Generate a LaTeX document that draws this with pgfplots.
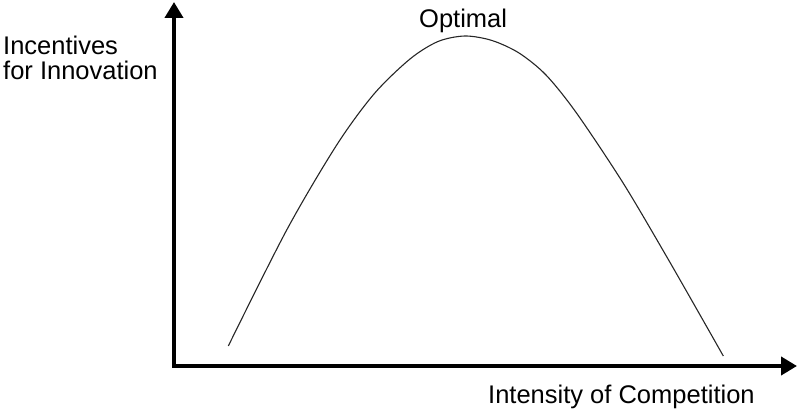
\documentclass[border=0pt]{standalone}
\usepackage{fontspec}
\setmainfont{Liberation Sans}
\usepackage{pgfplots}
\pgfplotsset{compat=1.18}
\usetikzlibrary{arrows.meta}
\begin{document}
\begin{tikzpicture}
\path[use as bounding box] (-174pt,-44pt) rectangle (626pt,366pt);
\begin{axis}[
  at={(0,0)}, anchor=south west,
  scale only axis, width=623pt, height=364pt,
  xmin=0, xmax=623, ymin=0, ymax=364,
  axis lines=left,
  axis line style={line width=4.5pt, line cap=rect, -{Triangle[width=18pt,length=16pt]}},
  xtick=\empty, ytick=\empty,
  clip=false,
]
\addplot[smooth, black!85, line width=1.1pt] coordinates {
(54.3,20) (112.7,136) (162.7,221) (200,272) (236,307) (264,324.5) (291,330)
(318,325.5) (345,313) (372,291) (402.7,252.7) (449.3,182.7) (492.7,109.3)
(532.7,39.3) (549.3,10)
};
\node[anchor=base west, inner sep=0, font=\fontsize{25.5}{25}\selectfont, align=left] at (axis cs:-171,286) {Incentives\\for Innovation};
\node[anchor=base west, inner sep=0, font=\fontsize{25.5}{25}\selectfont] at (axis cs:245,338) {Optimal};
\node[anchor=base west, inner sep=0, font=\fontsize{25.5}{25}\selectfont] at (axis cs:314,-37) {Intensity of Competition};
\end{axis}
\end{tikzpicture}
\end{document}
